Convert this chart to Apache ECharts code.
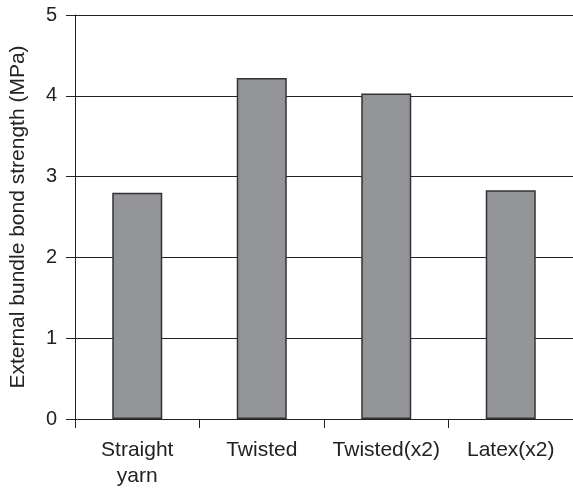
<!DOCTYPE html>
<html><head><meta charset="utf-8">
<script src="https://cdn.jsdelivr.net/npm/echarts@6/dist/echarts.min.js"></script>
<style>html,body{margin:0;padding:0;background:#fff}#c{width:573px;height:489px}</style>
</head><body><div id="c"></div>
<script>
const categories = ['Straight\nyarn', 'Twisted', 'Twisted(x2)', 'Latex(x2)'];
const values = [2.80, 4.22, 4.03, 2.83];
const yTicks = [0, 1, 2, 3, 4, 5];
const yName = 'External bundle bond strength (MPa)';

const FONT = 'Liberation Sans, Arial, Helvetica, sans-serif';
const chart = echarts.init(document.getElementById('c'), null, {renderer: 'canvas'});
chart.setOption({
  animation: false,
  backgroundColor: '#fff',
  grid: {left: 74, right: -5, top: 15, bottom: 66, containLabel: false},
  xAxis: {
    type: 'category', data: categories,
    axisLine: {show: true, lineStyle: {color: '#222', width: 1}},
    axisTick: {show: true, length: 9, alignWithLabel: false, lineStyle: {color: '#222', width: 1}},
    axisLabel: {color: '#222', fontSize: 21, fontFamily: FONT, margin: 18, lineHeight: 26, interval: 0}
  },
  yAxis: {
    type: 'value', min: yTicks[0], max: yTicks[yTicks.length - 1], interval: 1,
    name: yName, nameLocation: 'middle', nameGap: 46, nameRotate: 90,
    nameTextStyle: {color: '#222', fontSize: 21, fontFamily: FONT},
    axisLine: {show: true, lineStyle: {color: '#222', width: 1}},
    axisTick: {show: true, length: 9, lineStyle: {color: '#222', width: 1}},
    axisLabel: {color: '#222', fontSize: 20, fontFamily: FONT, margin: 18},
    splitLine: {show: true, lineStyle: {color: '#222', width: 1}}
  },
  series: [{
    type: 'bar', data: values, barWidth: 50,
    itemStyle: {color: '#939598', borderColor: '#333', borderWidth: 1.5}
  }]
});
</script></body></html>
